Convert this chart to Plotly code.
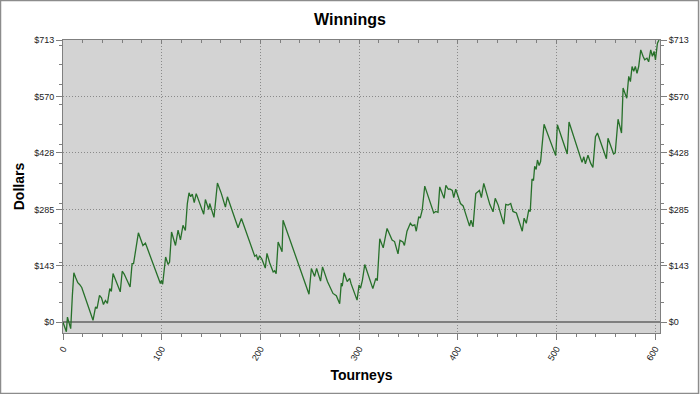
import plotly.graph_objects as go

# ---- data (vertices of the cumulative winnings line) ----
tourney = [0, 3.4, 4.5, 7.8, 9.5, 11, 13, 15, 17, 19, 30.4, 33, 34.5, 37, 39, 41, 43, 45,
           47.4, 49, 50.7, 58, 60, 62, 68, 70, 71.5, 73.7, 76.4, 81, 83.5, 85, 98.7, 99.8,
           101, 104, 105.5, 106.5, 108, 110, 114, 116.6, 119, 121.6, 124, 126, 127.7,
           129.4, 131, 133, 135, 142.6, 144.3, 147.7, 148.7, 153, 156.5, 160.5, 164.6,
           166.6, 177.4, 180.8, 194.3, 196, 197.6, 199.2, 201.5, 205, 206.7, 209.5, 213,
           214.5, 216, 218, 222, 223, 249.3, 251.7, 255, 257, 261, 263, 268, 270.5, 273.6,
           277, 280.4, 282, 283, 284.8, 288, 290.5, 292, 298, 300, 301.5, 303.4, 305.8,
           314, 317, 318.5, 321, 324.5, 328.4, 333.5, 336, 339.5, 341.5, 344.5, 346,
           348.6, 352, 354, 356.5, 358, 360.5, 362, 364, 366.6, 375.7, 377.7, 380, 381.8,
           386.2, 388, 390.5, 392, 394.5, 396, 398, 402.8, 405.5, 410.5, 412, 413.5,
           415.5, 418.3, 422, 424, 426.4, 432.5, 435.8, 438, 441, 444, 446.7, 448.7, 451,
           453.7, 456, 459.5, 463.6, 465.4, 467.3, 469.5, 472, 473.5, 475.3, 476.8, 478,
           479.5, 480.8, 482.5, 484, 487.5, 499.3, 501, 511, 512.8, 526, 527.8, 529.4,
           532, 534.7, 537, 539.6, 541.6, 550.7, 552.3, 558, 559.6, 562.5, 566, 567.6,
           570, 571.3, 573.3, 575, 576.7, 578.4, 580, 581.7, 583.4, 585.5, 587.8, 589.5,
           591.8, 593.5, 595.6, 597.3, 599, 600.4, 602.4, 604]
dollars = [0, -24, 13, -16, 68, 125, 112, 100, 95, 88, 5, 39, 35, 68, 62, 45, 55, 48,
           85, 78, 123, 77, 129, 122, 89, 148, 148, 182, 226, 194, 200, 190, 98, 106,
           96, 165, 150, 146, 152, 228, 194, 233, 208, 245, 232, 300, 327,
           317, 324, 302, 325, 273, 310, 285, 300, 265, 352, 325, 291,
           317, 239, 262, 167, 170, 157, 168, 160, 137, 174, 150, 127,
           130, 123, 203, 178, 258, 71, 136, 116, 136, 104, 140, 103, 90, 73,
           67, 47, 99, 91, 125, 103, 111, 97, 56, 94, 86, 106, 146,
           85, 111, 105, 211, 188, 237, 208, 204, 173, 207, 203, 194,
           230, 250, 244, 246, 230, 267, 263, 283, 344, 276, 280, 278, 342,
           313, 346, 336, 337, 333, 315, 336, 300, 294, 258, 243, 258,
           241, 325, 333, 315, 351, 298, 279, 313, 296, 270, 248, 298, 296,
           300, 280, 276, 246, 230, 263, 250, 284, 280, 362, 358, 394,
           386, 410, 396, 406, 500, 421, 499, 425, 506, 404, 418, 400,
           422, 402, 391, 469, 478, 413, 465, 425, 428, 513, 478, 592,
           571, 566, 621, 608, 646, 634, 646, 629, 646, 688, 672, 663,
           667, 658, 688, 672, 684, 663, 705, 713]

y_tick_values = [0, 142.6, 285.2, 427.8, 570.4, 713]
y_tick_labels = ["$0", "$143", "$285", "$428", "$570", "$713"]
x_tick_values = [0, 100, 200, 300, 400, 500, 600]
x_tick_labels = ["0", "100", "200", "300", "400", "500", "600"]
y_minor_values = [50, 100, 150, 200, 250, 300, 350, 400, 450, 500, 550, 600, 650, 700]
x_minor_values = list(range(20, 601, 20))

X_RANGE = [0, 605]
Y_RANGE = [-27, 713]

AXIS_GRAY = "#7f7f7f"
GRID_GRAY = "#8a8a8a"
GRID_DASH = "1px,2px"
TICK_FONT = dict(family="Liberation Sans, Arial, sans-serif", size=9, color="#222222")
TITLE_FONT = dict(family="Liberation Sans, Arial, sans-serif", size=14, color="#000000")

fig = go.Figure()
fig.add_trace(go.Scatter(x=tourney, y=dollars, mode="lines",
                         line=dict(color="#27702a", width=1.3),
                         showlegend=False, hoverinfo="x+y"))
# transparent copy carrying the mirrored (top / right) axes
fig.add_trace(go.Scatter(x=tourney, y=dollars, mode="lines", xaxis="x2", yaxis="y2",
                         line=dict(color="rgba(0,0,0,0)", width=0),
                         showlegend=False, hoverinfo="skip"))

fig.update_layout(
    width=700, height=394,
    margin=dict(l=63, r=40, t=40, b=61),
    paper_bgcolor="white",
    plot_bgcolor="#d3d3d3",
    title=dict(text="<b>Winnings</b>", x=0.5, xref="container", xanchor="center",
               y=0.95, yref="container", yanchor="middle",
               font=dict(family="Liberation Sans, Arial, sans-serif", size=16, color="#000")),
    xaxis=dict(
        range=X_RANGE, tickmode="array", tickvals=x_tick_values, ticktext=x_tick_labels,
        tickangle=-60, tickfont=TICK_FONT, ticks="outside", ticklen=6, tickcolor=AXIS_GRAY,
        showline=True, linecolor=AXIS_GRAY, linewidth=1,
        showgrid=True, gridcolor=GRID_GRAY, griddash=GRID_DASH, gridwidth=1,
        zeroline=False,
        minor=dict(tickmode="array", tickvals=x_minor_values, ticks="outside", ticklen=3,
                   tickcolor=AXIS_GRAY, showgrid=False),
        title=dict(text="<b>Tourneys</b>", font=TITLE_FONT, standoff=8),
        automargin=False,
    ),
    yaxis=dict(
        range=Y_RANGE, tickmode="array", tickvals=y_tick_values, ticktext=y_tick_labels,
        tickfont=TICK_FONT, ticks="outside", ticklen=6, tickcolor=AXIS_GRAY,
        showline=True, linecolor=AXIS_GRAY, linewidth=1,
        showgrid=True, gridcolor=GRID_GRAY, griddash=GRID_DASH, gridwidth=1,
        zeroline=True, zerolinecolor=AXIS_GRAY, zerolinewidth=1.5,
        minor=dict(tickmode="array", tickvals=y_minor_values, ticks="outside", ticklen=3,
                   tickcolor=AXIS_GRAY, showgrid=False),
        title=dict(text="<b>Dollars</b>", font=TITLE_FONT, standoff=6),
        automargin=False,
    ),
    xaxis2=dict(
        range=X_RANGE, overlaying="x", side="top", anchor="y2",
        tickmode="array", tickvals=x_tick_values, showticklabels=False,
        ticks="inside", ticklen=4, tickcolor=AXIS_GRAY,
        showline=True, linecolor=AXIS_GRAY, linewidth=1,
        showgrid=False, zeroline=False,
        minor=dict(tickmode="array", tickvals=x_minor_values, ticks="inside", ticklen=3,
                   tickcolor=AXIS_GRAY, showgrid=False),
    ),
    yaxis2=dict(
        range=Y_RANGE, overlaying="y", side="right", anchor="x2",
        tickmode="array", tickvals=y_tick_values, ticktext=y_tick_labels,
        tickfont=TICK_FONT, ticks="outside", ticklen=6, tickcolor=AXIS_GRAY,
        showline=True, linecolor=AXIS_GRAY, linewidth=1,
        showgrid=False, zeroline=False,
        minor=dict(tickmode="array", tickvals=y_minor_values, ticks="outside", ticklen=3,
                   tickcolor=AXIS_GRAY, showgrid=False),
        automargin=False,
    ),
    shapes=[dict(type="rect", xref="paper", yref="paper",
                 x0=-0.1047, x1=1.0646, y0=-0.2065, y1=1.1347,
                 line=dict(color="#8c8c8c", width=1.5), fillcolor="rgba(0,0,0,0)",
                 layer="below")],
)

fig.write_html("out.html")
